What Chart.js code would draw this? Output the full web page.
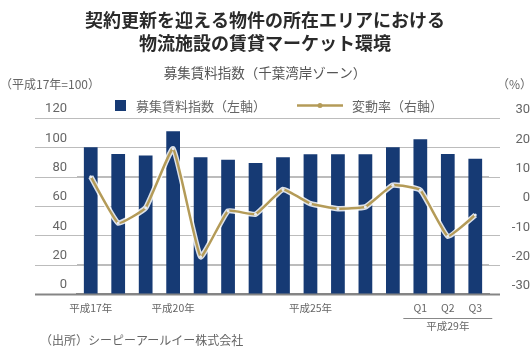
<!DOCTYPE html>
<html lang="ja">
<head>
<meta charset="utf-8">
<script src="https://cdn.jsdelivr.net/npm/chart.js@4/dist/chart.umd.min.js"></script>
<style>
  html, body { margin: 0; padding: 0; background: #fff; }
  #wrap { width: 530px; height: 347px; }
</style>
</head>
<body>
<div id="wrap"><canvas id="chart"></canvas></div>
<script>
const JP = '"Noto Sans CJK JP", "Noto Sans", sans-serif';

// 期間（平成17年〜平成28年、平成29年Q1〜Q3）
const periods = ['平成17年','平成18年','平成19年','平成20年','平成21年','平成22年','平成23年',
  '平成24年','平成25年','平成26年','平成27年','平成28年','Q1','Q2','Q3'];
const shownTicks = ['平成17年','平成20年','平成25年','Q1','Q2','Q3'];
const quarterYear = '平成29年';

// 募集賃料指数（左軸、平成17年=100）
const rentIndex = [100, 95.5, 94.5, 111, 93.3, 91.5, 89.3, 93.3, 95.2, 95.2, 95.2, 100, 105.5, 95.5, 92.2];
// 変動率（右軸、%）
const changeRate = [10, -5.8, -0.6, 19.5, -17.3, -1.7, -2.8, 5.6, 0.8, -0.9, -0.3, 7.1, 5.4, -10.3, -3.1];

const leftTicks = { min: 0, max: 120, step: 20 };
const rightTicks = { min: -30, max: 30, step: 10 };

const NAVY = '#163a74';
const GOLD = '#b49b58';
const GREY = '#666';
const GRID = '#bcbcbc';
const BASE = '#858585';

// 横の目盛線はプロット領域より左右に少しはみ出して引く
const gridLines = {
  id: 'gridLines',
  beforeDatasetsDraw(chart) {
    const { ctx } = chart;
    const y = chart.scales.y;
    ctx.save();
    for (let v = leftTicks.min; v <= leftTicks.max; v += leftTicks.step) {
      const py = Math.round(y.getPixelForValue(v)) + 0.5;
      ctx.beginPath();
      ctx.strokeStyle = v === 0 ? BASE : GRID;
      ctx.lineWidth = v === 0 ? 2 : 1;
      ctx.moveTo(35, py);
      ctx.lineTo(500, py);
      ctx.stroke();
    }
    ctx.restore();
  }
};

const decor = {
  id: 'decor',
  afterDraw(chart) {
    const { ctx } = chart;
    const x = chart.scales.x;
    ctx.save();
    ctx.fillStyle = GREY;
    ctx.textBaseline = 'middle';
    // 軸の単位
    ctx.font = '12px ' + JP;
    ctx.textAlign = 'left';
    ctx.fillText('（平成17年=100）', 0, 84);
    ctx.textAlign = 'right';
    ctx.fillText('（%）', 532, 84);

    // 凡例
    ctx.textAlign = 'left';
    ctx.font = '13px ' + JP;
    ctx.fillStyle = NAVY;
    ctx.fillRect(115, 100, 11, 11);
    ctx.fillStyle = GREY;
    ctx.fillText('募集賃料指数（左軸）', 136, 106);
    ctx.strokeStyle = GOLD;
    ctx.lineWidth = 2.5;
    ctx.beginPath();
    ctx.moveTo(297, 105.5);
    ctx.lineTo(343, 105.5);
    ctx.stroke();
    ctx.fillStyle = GOLD;
    ctx.beginPath();
    ctx.arc(320, 105.5, 2.5, 0, Math.PI * 2);
    ctx.fill();
    ctx.fillStyle = GREY;
    ctx.fillText('変動率（右軸）', 352, 106);

    // 平成29年のくくり
    const x0 = x.getPixelForValue(12) - 17;
    const x1 = x.getPixelForValue(14) + 17;
    ctx.strokeStyle = '#888';
    ctx.lineWidth = 1;
    ctx.beginPath();
    ctx.moveTo(x0, 318.5);
    ctx.lineTo(x1, 318.5);
    ctx.stroke();
    ctx.font = '10.5px ' + JP;
    ctx.textAlign = 'center';
    ctx.fillText(quarterYear, (x0 + x1) / 2, 326);

    // 出所
    ctx.font = '12px ' + JP;
    ctx.textAlign = 'left';
    ctx.fillText('（出所）シーピーアールイー株式会社', 40, 340);
    ctx.restore();
  }
};

new Chart(document.getElementById('chart'), {
  type: 'bar',
  data: {
    labels: periods,
    datasets: [
      { type: 'line', label: '変動率（右軸）', data: changeRate, yAxisID: 'y1', order: 1,
        borderColor: GOLD, borderWidth: 2.5, tension: 0.12, fill: false,
        pointRadius: 1.5, pointBackgroundColor: '#e8ecf2', pointBorderWidth: 0 },
      { type: 'line', label: '_halo', data: changeRate, yAxisID: 'y1', order: 2,
        borderColor: 'rgba(255,255,255,0.85)', borderWidth: 5.5, tension: 0.12, fill: false, pointRadius: 0 },
      { label: '募集賃料指数（左軸）', data: rentIndex, yAxisID: 'y', order: 3,
        backgroundColor: NAVY, barPercentage: 0.5, categoryPercentage: 1 }
    ]
  },
  options: {
    responsive: true,
    maintainAspectRatio: false,
    animation: false,
    layout: { padding: { left: 0, right: 0, top: 0, bottom: 0 } },
    plugins: {
      legend: { display: false },
      tooltip: { enabled: false },
      title: {
        display: true,
        text: ['契約更新を迎える物件の所在エリアにおける', '物流施設の賃貸マーケット環境'],
        color: '#2a2a2a',
        font: { family: JP, size: 18, weight: 'bold', lineHeight: 1.3 },
        padding: { top: 8, bottom: 10 }
      },
      subtitle: {
        display: true,
        text: '募集賃料指数（千葉湾岸ゾーン）',
        color: '#555',
        font: { family: JP, size: 13.5, lineHeight: 1.2 },
        padding: { top: 0, bottom: 37 }
      }
    },
    scales: {
      x: {
        grid: { display: false, drawTicks: false },
        border: { display: true, color: BASE, width: 2 },
        afterFit: (s) => { s.height = 53; },
        ticks: {
          autoSkip: false, maxRotation: 0, padding: 8,
          color: GREY, font: { family: JP, size: 10.5 },
          callback: (v) => shownTicks.includes(periods[v]) ? periods[v] : ''
        }
      },
      y: {
        position: 'left',
        min: leftTicks.min, max: leftTicks.max,
        grid: { display: true, drawTicks: false, color: (c) => c.tick && c.tick.value === 0 ? BASE : GRID, lineWidth: 1 },
        border: { display: false },
        afterFit: (s) => { s.width = 77; },
        ticks: { stepSize: leftTicks.step, padding: 10, labelOffset: -9,
          color: GREY, font: { family: 'Roboto, sans-serif', size: 13 } }
      },
      y1: {
        position: 'right',
        min: rightTicks.min, max: rightTicks.max,
        grid: { display: false, drawTicks: false },
        border: { display: false },
        afterFit: (s) => { s.width = 41; },
        ticks: { stepSize: rightTicks.step, crossAlign: 'far', labelOffset: -8,
          color: GREY, font: { family: 'Roboto, sans-serif', size: 13 } }
      }
    }
  },
  plugins: [gridLines, decor]
});
</script>
</body>
</html>
